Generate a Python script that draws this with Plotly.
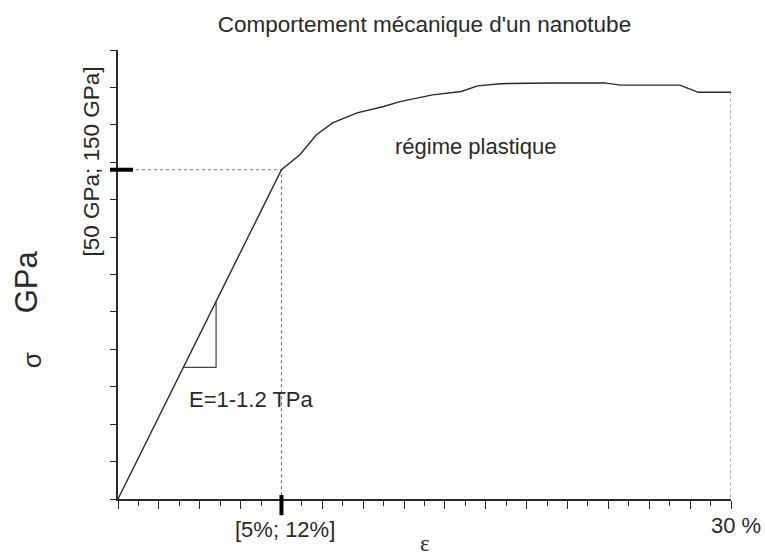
import plotly.graph_objects as go

# ---- data (strain in %, stress in arbitrary GPa-scale units) ----
strain = [0, 8, 8.9, 9.7, 10.5, 11.7, 13.0, 13.8, 15.4, 16.8, 17.6, 18.7, 21.2, 23.8, 24.6, 27.5, 28.4, 30]
stress = [0, 88, 92, 97.3, 100.5, 103.2, 104.9, 106.2, 108, 108.9, 110.4, 111, 111.2, 111.2, 110.6, 110.6, 108.7, 108.7]
yield_strain = 8
yield_stress = 88
max_strain = 30
slope_x = [3.2, 4.8]  # triangle for Young's modulus

title_text = "Comportement mécanique d'un nanotube"
FONT = "Liberation Sans, Arial, sans-serif"
INK = "#2a2a2a"

E = yield_stress / yield_strain
tri_x = [slope_x[0], slope_x[1], slope_x[1]]
tri_y = [E * slope_x[0], E * slope_x[0], E * slope_x[1]]

fig = go.Figure()

# dotted guides
fig.add_trace(go.Scatter(x=[0, yield_strain, yield_strain], y=[yield_stress, yield_stress, 0],
                         mode="lines", line=dict(color="#777", width=1.2, dash="dot"),
                         hoverinfo="skip", showlegend=False))
fig.add_trace(go.Scatter(x=[max_strain, max_strain], y=[stress[-1], 0],
                         mode="lines", line=dict(color="#777", width=1.2, dash="dot"),
                         hoverinfo="skip", showlegend=False))
# triangle
fig.add_trace(go.Scatter(x=tri_x, y=tri_y, mode="lines",
                         line=dict(color="#444", width=1.2),
                         hoverinfo="skip", showlegend=False))
# curve
fig.add_trace(go.Scatter(x=strain, y=stress, mode="lines",
                         line=dict(color=INK, width=1.4),
                         showlegend=False))

# thick marks at yield point
fig.add_shape(type="line", xref="x", yref="paper", x0=yield_strain, x1=yield_strain,
              y0=-0.036, y1=0.009, line=dict(color="black", width=4), layer="above")
fig.add_shape(type="line", xref="paper", yref="y", x0=-0.013, x1=0.0245,
              y0=yield_stress, y1=yield_stress, line=dict(color="black", width=4), layer="above")

ann_font = dict(family=FONT, size=22, color=INK)
annotations = [
    dict(x=17.5, y=94.1, xref="x", yref="y", text="régime plastique", font=ann_font),
    dict(x=3.36, y=26.7, xref="x", yref="y", text="E=1-1.2 TPa", xanchor="left", font=ann_font),
    dict(x=8.17, y=-0.067, xref="x", yref="paper", text="[5%; 12%]", font=ann_font),
    dict(x=1.008, y=-0.060, xref="paper", yref="paper", text="30 %", font=ann_font),
    dict(x=15.03, y=-0.1305, xref="x", yref="paper", text="ε", yanchor="bottom",
         font=dict(family="Liberation Serif, DejaVu Serif, serif", size=23, color=INK)),
    dict(x=-0.043, y=90.1, xref="paper", yref="y", text="[50 GPa; 150 GPa]",
         textangle=-90, font=dict(family=FONT, size=22.5, color=INK)),
    dict(x=-0.148, y=58.0, xref="paper", yref="y", text="GPa", textangle=-90,
         font=dict(family=FONT, size=31, color=INK)),
    dict(x=-0.14, y=37.1, xref="paper", yref="y", text="σ", textangle=-90,
         font=dict(family=FONT, size=26, color=INK)),
]
for a in annotations:
    a.setdefault("xanchor", "center")
    a.setdefault("yanchor", "middle")
    a["showarrow"] = False

fig.update_layout(
    width=765, height=558,
    margin=dict(l=118, r=34, t=50, b=59),
    paper_bgcolor="white", plot_bgcolor="white",
    title=dict(text=title_text, x=0.5, xref="paper", xanchor="center", y=1 - 24 / 558,
               yanchor="middle", yref="container", font=dict(family=FONT, size=22.5, color=INK)),
    annotations=annotations,
    xaxis=dict(range=[0, 30], showline=True, linecolor=INK, linewidth=1.6,
               showgrid=False, zeroline=False, showticklabels=False,
               ticks="outside", tick0=0, dtick=2, ticklen=8, tickwidth=1.4, tickcolor=INK,
               minor=dict(dtick=1, tick0=0, ticks="outside", ticklen=5, tickwidth=1.2, tickcolor=INK,
                          showgrid=False)),
    yaxis=dict(range=[0, 120], showline=True, linecolor=INK, linewidth=1.6,
               showgrid=False, zeroline=False, showticklabels=False,
               ticks="outside", tick0=0, dtick=10, ticklen=6, tickwidth=1.2, tickcolor=INK),
)

fig.write_html("out.html")
